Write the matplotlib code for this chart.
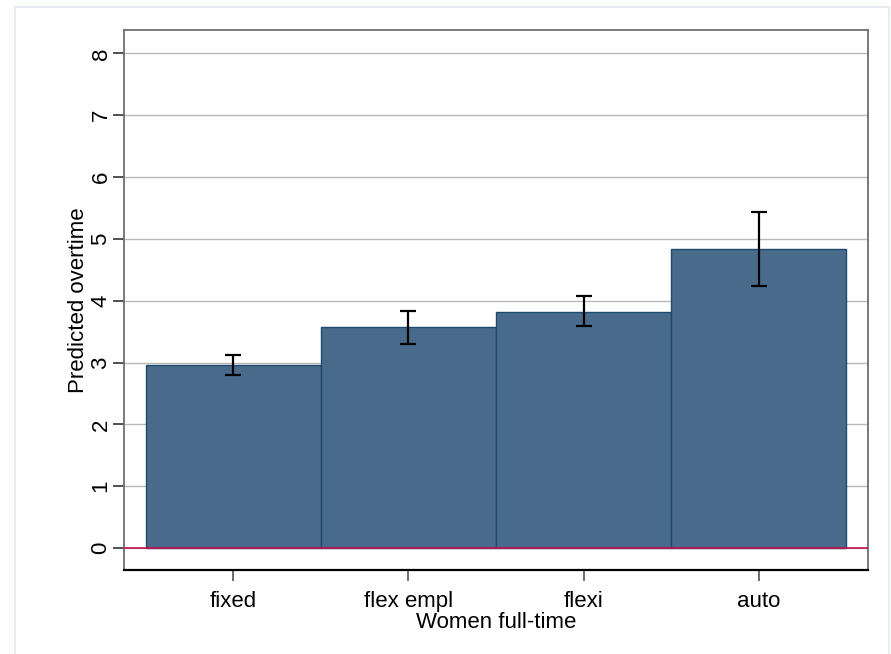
import matplotlib
matplotlib.use("Agg")
import matplotlib.pyplot as plt
from matplotlib.lines import Line2D

categories = ["fixed", "flex empl", "flexi", "auto"]
values = [2.96, 3.57, 3.81, 4.83]
ci_low = [2.80, 3.30, 3.59, 4.24]
ci_high = [3.13, 3.84, 4.08, 5.43]
yticks = [0, 1, 2, 3, 4, 5, 6, 7, 8]

plt.rcParams['font.family'] = ['Liberation Sans', 'DejaVu Sans']

W, H = 891, 654
fig = plt.figure(figsize=(W / 100, H / 100), dpi=100)
ax = fig.add_axes([124 / W, 1 - 570 / H, (868 - 124) / W, (570 - 30) / H])

x = list(range(1, len(categories) + 1))
ax.bar(x, values, width=1.0, color="#486b8c", edgecolor="#1f4a6e", linewidth=1.0, zorder=2)
yerr = [[v - l for v, l in zip(values, ci_low)], [h - v for v, h in zip(values, ci_high)]]
ax.errorbar(x, values, yerr=yerr, fmt="none", ecolor="black", elinewidth=1.6,
            capsize=6, capthick=1.6, zorder=3)
ax.axhline(0, color="#c8104c", linewidth=1.2, zorder=4)

ax.set_xlim(0.375, 4.625)
ax.set_ylim(-0.356, 8.38)
ax.set_yticks(yticks)
ax.set_yticklabels([str(t) for t in yticks], rotation=90, va="center")
ax.set_xticks(x)
ax.set_xticklabels(categories)
ax.grid(axis="y", color="#b8b8b8", linewidth=1.0, zorder=0)
ax.set_axisbelow(True)

ax.tick_params(axis="y", length=8, width=1.2, color="#333333", labelsize=16, pad=1)
ax.tick_params(axis="x", length=8, width=1.2, color="#555555", labelsize=16, pad=7)

for s in ["top", "right", "left"]:
    ax.spines[s].set_color("#6e6e6e")
    ax.spines[s].set_linewidth(1.3)
ax.spines["bottom"].set_color("black")
ax.spines["bottom"].set_linewidth(1.6)

ax.set_ylabel("Predicted overtime", fontsize=16, labelpad=1)
ax.set_xlabel("Women full-time", fontsize=16, labelpad=0)

# faint outer frame
fc = "#e6ecf2"
fig.add_artist(Line2D([15 / W, 15 / W], [0, 1 - 7 / H], color=fc, lw=1.5, transform=fig.transFigure))
fig.add_artist(Line2D([15 / W, 889 / W], [1 - 7 / H, 1 - 7 / H], color=fc, lw=1.5, transform=fig.transFigure))
fig.add_artist(Line2D([889 / W, 889 / W], [0, 1 - 7 / H], color=fc, lw=1.5, transform=fig.transFigure))

fig.savefig("out.png", dpi=100)
